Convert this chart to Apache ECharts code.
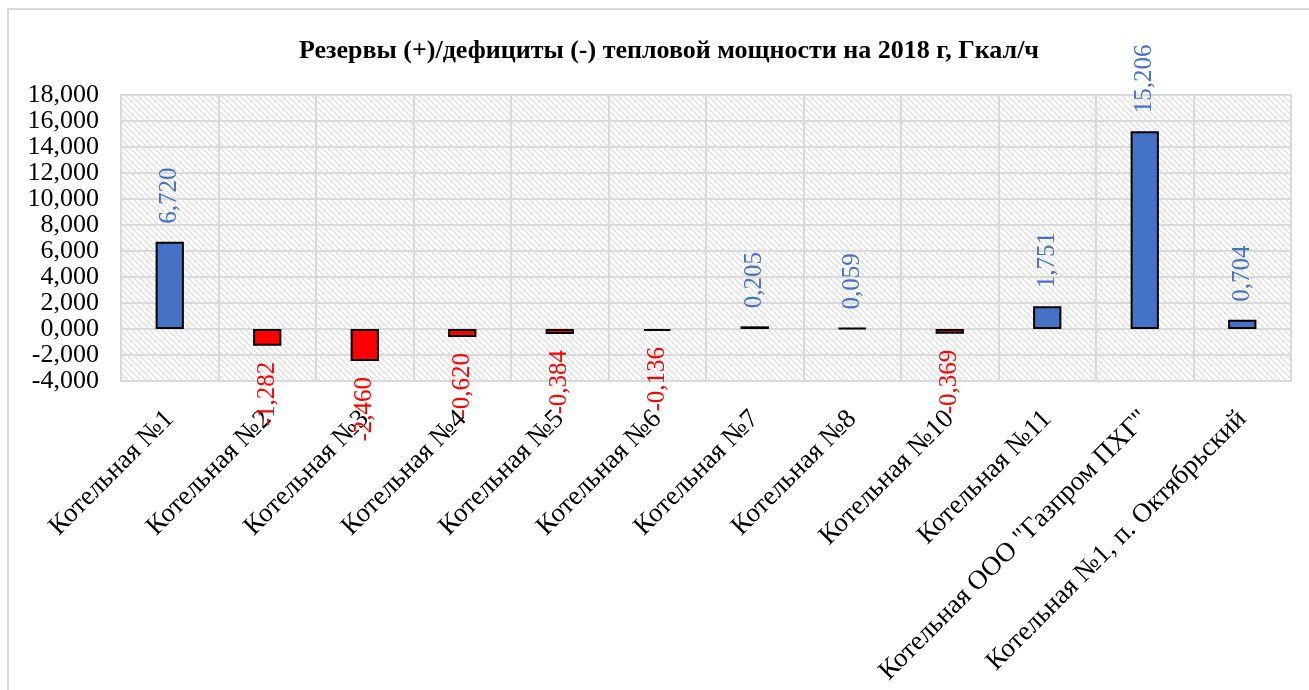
<!DOCTYPE html>
<html lang="ru">
<head>
    <meta charset="UTF-8">
    <title>Резервы/дефициты тепловой мощности</title>
    <script src="https://cdn.jsdelivr.net/npm/echarts@6.0.0/dist/echarts.min.js"></script>
    <style>
        html, body { margin: 0; padding: 0; background: #fff; }
        #chart { width: 1309px; height: 690px; }
    </style>
</head>
<body>
    <div id="chart"></div>
    <script>
        const categories = [
            'Котельная №1', 'Котельная №2', 'Котельная №3', 'Котельная №4',
            'Котельная №5', 'Котельная №6', 'Котельная №7', 'Котельная №8',
            'Котельная №10', 'Котельная №11', 'Котельная ООО "Газпром ПХГ"',
            'Котельная №1, п. Октябрьский'
        ];
        const values = [6.720, -1.282, -2.460, -0.620, -0.384, -0.136, 0.205, 0.059, -0.369, 1.751, 15.206, 0.704];

        const fmt = v => v.toFixed(3).replace('.', ',');
        const serif = '"Liberation Serif", "Times New Roman", serif';

        // hatched plot background
        const pat = document.createElement('canvas');
        pat.width = 6; pat.height = 6;
        const ctx = pat.getContext('2d');
        ctx.fillStyle = '#ffffff';
        ctx.fillRect(0, 0, 6, 6);
        ctx.strokeStyle = '#d9d9d9';
        ctx.lineWidth = 1.1;
        ctx.beginPath();
        ctx.moveTo(-1, -1); ctx.lineTo(7, 7);
        ctx.moveTo(-1, 5); ctx.lineTo(1, 7);
        ctx.moveTo(5, -1); ctx.lineTo(7, 1);
        ctx.stroke();

        const chart = echarts.init(document.getElementById('chart'));

        const barData = values.map(v => {
            const neg = v < 0;
            return {
                value: v,
                itemStyle: { color: neg ? '#ff0000' : '#4472c4' },
                label: neg
                    ? { position: 'bottom', align: 'right', color: '#ff0000', distance: 16 }
                    : { position: 'top', align: 'left', color: '#4472c4', distance: 18 }
            };
        });

        chart.setOption({
            animation: false,
            title: {
                text: 'Резервы (+)/дефициты (-) тепловой мощности на 2018 г, Гкал/ч',
                left: 664,
                top: 33,
                textAlign: 'center',
                textStyle: { fontFamily: serif, fontWeight: 'bold', fontSize: 26, color: '#000' }
            },
            graphic: [{
                type: 'rect',
                shape: { x: 8, y: 9, width: 1320, height: 700 },
                style: { fill: 'none', stroke: '#d9d9d9', lineWidth: 2 },
                silent: true
            }],
            grid: {
                left: 121, right: 18, top: 95, bottom: 309,
                show: true,
                backgroundColor: { image: pat, repeat: 'repeat' },
                borderColor: '#d9d9d9',
                borderWidth: 2
            },
            xAxis: {
                type: 'category',
                data: categories,
                axisLine: { show: false },
                axisTick: { show: false },
                splitLine: { show: true, lineStyle: { color: '#d9d9d9', width: 2 } },
                axisLabel: {
                    rotate: 45,
                    interval: 0,
                    margin: 34,
                    fontFamily: serif,
                    fontSize: 27,
                    color: '#000'
                }
            },
            yAxis: {
                type: 'value',
                min: -4,
                max: 18,
                interval: 2,
                axisLine: { show: false },
                axisTick: { show: false },
                splitLine: { lineStyle: { color: '#d9d9d9', width: 2 } },
                axisLabel: {
                    formatter: fmt,
                    margin: 22,
                    fontFamily: serif,
                    fontSize: 26,
                    color: '#000'
                }
            },
            series: [{
                type: 'bar',
                data: barData,
                barWidth: '29%',
                itemStyle: { borderColor: '#000', borderWidth: 2 },
                label: {
                    show: true,
                    rotate: 90,
                    verticalAlign: 'middle',
                    fontFamily: serif,
                    fontSize: 25,
                    formatter: p => fmt(p.value)
                }
            }]
        });
    </script>
</body>
</html>
